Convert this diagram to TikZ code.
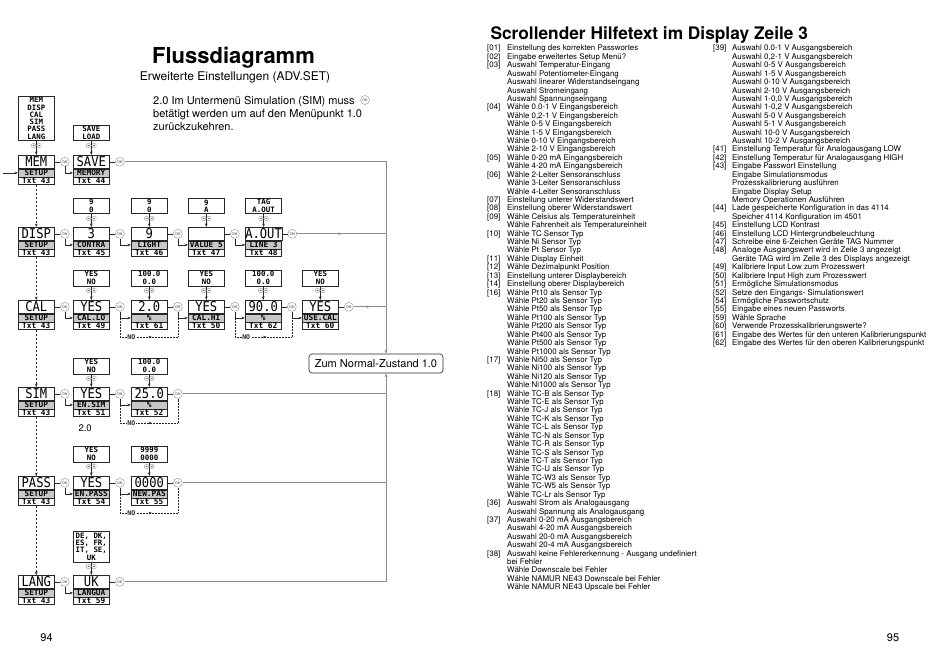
\documentclass[tikz,border=0pt]{standalone}
\usepackage{fontspec}
\setmainfont{TeX Gyre Heros}
\newfontfamily\lcdfont[FakeStretch=0.9]{DejaVu Sans Mono}
\newfontfamily\lcdsmall{DejaVu Sans Mono}
\usepackage{tikz}
\usetikzlibrary{arrows.meta, positioning, decorations.markings}
\definecolor{lcdgray}{RGB}{200,200,200}
\definecolor{linegray}{RGB}{140,140,140}
\definecolor{inkgray}{RGB}{40,40,40}

% one display: value line, scrolling line, help text number
\newcommand{\lcdbox}[6]{%
  \node[lcdmain] (#1) at (#2,#3) {#4};
  \node[lcdband, below=0pt of #1] (#1-b) {#5};
  \node[lcdtxt, below=0pt of #1-b] (#1-t) {#6};}

\tikzset{keys/.pic={
  \draw[linegray, fill=white, line width=0.3pt] (-2.7,0) circle[radius=2.3] (2.7,0) circle[radius=2.3];
  \draw[inkgray, line width=0.35pt] (-3.6,0.5) -- (-2.7,-0.5) -- (-1.8,0.5)
                                    (1.8,-0.5) -- (2.7,0.5) -- (3.6,-0.5);
}}

\begin{document}
\begin{tikzpicture}[
  x=1pt, y=-1pt,
  lcdmain/.style={draw=inkgray, line width=0.6pt, anchor=north west, minimum width=36pt,
                  minimum height=13pt, inner sep=0pt, font=\lcdfont\fontsize{13.5}{13.5}\selectfont},
  lcdband/.style={draw=inkgray, line width=0.6pt, fill=lcdgray, minimum width=36pt,
                  minimum height=8pt, inner sep=0pt, font=\lcdsmall\bfseries\fontsize{7.8}{8}\selectfont},
  lcdtxt/.style={draw=inkgray, line width=0.6pt, minimum width=36pt, minimum height=7pt,
                 inner sep=0pt, font=\lcdsmall\bfseries\fontsize{7.8}{8}\selectfont},
  optbox/.style={draw=inkgray, line width=0.5pt, fill=white, minimum width=36pt, inner xsep=0pt,
                 inner ysep=1.4pt, align=center, font=\lcdsmall\bfseries\fontsize{7.4}{7.3}\selectfont},
  okc/.style={circle, draw=linegray, fill=white, line width=0.4pt, inner sep=0pt,
              minimum size=9pt, text=inkgray, font=\fontsize{3.6}{4}\selectfont},
  conn/.style={inkgray, line width=0.5pt},
  arr/.style={conn, -{Stealth[length=3.5pt, width=2.6pt]}},
  bus/.style={linegray, line width=0.9pt},
  midarr/.style={postaction={decorate}, decoration={markings,
                 mark=at position 0.5 with {\arrow{Stealth[length=3.5pt, width=2.6pt]}}}},
  noline/.style={inkgray, line width=0.5pt, densely dotted},
  nolabel/.style={fill=white, inner sep=0.5pt, font=\lcdsmall\bfseries\fontsize{6.5}{6.5}\selectfont},
  menu/.style={inkgray, line width=1pt, dash pattern=on 2.5pt off 1.5pt,
               -{Stealth[length=3.5pt, width=2.8pt]}},
  normbox/.style={draw=inkgray, line width=0.6pt, rounded corners=3pt, fill=white,
                  minimum width=134pt, minimum height=19pt, font=\fontsize{11}{13}\selectfont},
  helptext/.style={inner sep=0pt, font=\fontsize{7.9}{8.41}\selectfont},
]
\fill[white] (0,0) rectangle (950,671);
\useasboundingbox (0,0) rectangle (950,671);

% Titles and note
\node[anchor=base, font=\bfseries\fontsize{22}{26}\selectfont] (title) at (233.5,64) {Flussdiagramm};
\node[anchor=base, font=\fontsize{12}{14}\selectfont] (subtitle) at (235,81) {Erweiterte Einstellungen (ADV.SET)};
\node[anchor=north west, align=left, inner sep=0pt, font=\fontsize{11}{13}\selectfont] (note) at (153,96)
  {2.0 Im Untermenü Simulation (SIM) muss\\betätigt werden um auf den Menüpunkt 1.0\\zurückzukehren.};
\node[okc] (ok-note) at (365,100) {OK};
\node[anchor=base west, font=\bfseries\fontsize{17.3}{20}\selectfont] (helptitle) at (487,40)
  {Scrollender Hilfetext im Display Zeile 3};

% Displays
\lcdbox{mem}{18}{155}{MEM}{SETUP}{Txt 43}
\lcdbox{save}{73}{155}{SAVE}{MEMORY}{Txt 44}
\lcdbox{disp}{18}{227}{DISP}{SETUP}{Txt 43}
\lcdbox{disp1}{73}{227}{3}{CONTRA}{Txt 45}
\lcdbox{disp2}{131}{227}{9}{LIGHT}{Txt 46}
\lcdbox{disp3}{188}{227}{}{VALUE 5}{Txt 47}
\lcdbox{disp4}{245}{227}{A.OUT}{LINE 3}{Txt 48}
\lcdbox{cal}{18}{300}{CAL}{SETUP}{Txt 43}
\lcdbox{cal1}{73}{300}{YES}{CAL.LO}{Txt 49}
\lcdbox{cal2}{131}{300}{2.0}{\%}{Txt 61}
\lcdbox{cal3}{188}{300}{YES}{CAL.HI}{Txt 50}
\lcdbox{cal4}{245}{300}{90.0}{\%}{Txt 62}
\lcdbox{cal5}{302}{300}{YES}{USE.CAL}{Txt 60}
\lcdbox{sim}{18}{387}{SIM}{SETUP}{Txt 43}
\lcdbox{sim1}{73}{387}{YES}{EN.SIM}{Txt 51}
\lcdbox{sim2}{131}{387}{25.0}{\%}{Txt 52}
\lcdbox{pass}{18}{476}{PASS}{SETUP}{Txt 43}
\lcdbox{pass1}{73}{476}{YES}{EN.PASS}{Txt 54}
\lcdbox{pass2}{131}{476}{0000}{NEW.PAS}{Txt 55}
\lcdbox{lang}{18}{575}{LANG}{SETUP}{Txt 43}
\lcdbox{lang1}{73}{575}{UK}{LANGUA}{Txt 59}

\node[anchor=base west, font=\fontsize{9.5}{11}\selectfont] (simnote) at (75,431) {2.0};

% Choices above the displays
\node[optbox, above=14pt of mem]   (mem-opt)   {MEM\\DISP\\CAL\\SIM\\PASS\\LANG};
\node[optbox, above=14pt of save]  (save-opt)  {SAVE\\LOAD};
\node[optbox, above=13pt of disp1] (disp1-opt) {9\\0};
\node[optbox, above=13pt of disp2] (disp2-opt) {9\\0};
\node[optbox, above=13pt of disp3] (disp3-opt) {9\\A};
\node[optbox, above=13pt of disp4] (disp4-opt) {TAG\\A.OUT};
\node[optbox, above=14pt of cal1]  (cal1-opt)  {YES\\NO};
\node[optbox, above=14pt of cal2]  (cal2-opt)  {100.0\\0.0};
\node[optbox, above=14pt of cal3]  (cal3-opt)  {YES\\NO};
\node[optbox, above=14pt of cal4]  (cal4-opt)  {100.0\\0.0};
\node[optbox, above=14pt of cal5]  (cal5-opt)  {YES\\NO};
\node[optbox, above=13pt of sim1]  (sim1-opt)  {YES\\NO};
\node[optbox, above=13pt of sim2]  (sim2-opt)  {100.0\\0.0};
\node[optbox, above=14pt of pass1] (pass1-opt) {YES\\NO};
\node[optbox, above=14pt of pass2] (pass2-opt) {9999\\0000};
\node[optbox, above=13pt of lang1] (lang1-opt) {DE, DK,\\ES, FR,\\IT, SE,\\UK};

\foreach \d in {mem, save, disp1, disp2, disp3, disp4, cal1, cal2, cal3, cal4, cal5,
                sim1, sim2, pass1, pass2, lang1} {
  \draw[arr] (\d-opt) -- (\d);
  \path (\d-opt.south) ++(0,4.5) pic {keys};
}

% OK keys
\node[okc, right=5.5pt of mem]   (ok-mem)   {OK};
\node[okc, right=5.5pt of save]  (ok-save)  {OK};
\node[okc, right=5.5pt of disp]  (ok-disp)  {OK};
\node[okc, right=5.5pt of disp1] (ok-disp1) {OK};
\node[okc, right=5.5pt of disp2] (ok-disp2) {OK};
\node[okc, right=5.5pt of disp3] (ok-disp3) {OK};
\node[okc, right=5.5pt of disp4] (ok-disp4) {OK};
\node[okc, right=5.5pt of cal]   (ok-cal)   {OK};
\node[okc, right=5.5pt of cal1]  (ok-cal1)  {OK};
\node[okc, right=5.5pt of cal2]  (ok-cal2)  {OK};
\node[okc, right=5.5pt of cal3]  (ok-cal3)  {OK};
\node[okc, right=5.5pt of cal4]  (ok-cal4)  {OK};
\node[okc, right=5.5pt of cal5]  (ok-cal5)  {OK};
\node[okc, right=5.5pt of sim]   (ok-sim)   {OK};
\node[okc, right=5.5pt of sim1]  (ok-sim1)  {OK};
\node[okc, right=5.5pt of sim2]  (ok-sim2)  {OK};
\node[okc, right=5.5pt of pass]  (ok-pass)  {OK};
\node[okc, right=5.5pt of pass1] (ok-pass1) {OK};
\node[okc, right=5.5pt of pass2] (ok-pass2) {OK};
\node[okc, right=5.5pt of lang]  (ok-lang)  {OK};
\node[okc, right=5.5pt of lang1] (ok-lang1) {OK};

% Display -> OK -> next display
\foreach \a/\b in {mem/save, disp/disp1, disp1/disp2, disp2/disp3, disp3/disp4,
                   cal/cal1, cal1/cal2, cal2/cal3, cal3/cal4, cal4/cal5,
                   sim/sim1, sim1/sim2, pass/pass1, pass1/pass2, lang/lang1} {
  \draw[conn] (\a) -- (ok-\a);
  \draw[arr] (ok-\a.south) |- (\b-b.west);
}
\foreach \a in {save, disp4, cal5, sim2, pass2, lang1}
  \draw[conn] (\a) -- (ok-\a);

% Menu column
\coordinate (entry) at (3,170);
\draw[arr] (entry |- mem-b.west) -- (mem-b.west);
\draw[menu] (mem-t) -- (disp);
\draw[menu] (disp-t) -- (cal);
\draw[menu] (cal-t) -- (sim);
\draw[menu] (sim-t) -- (pass);
\draw[menu] (pass-t) -- (lang);

% NO branches
\coordinate (no-cal) at (0,337);
\coordinate (no-sim) at (0,423);
\coordinate (no-pass) at (0,513);
\draw[noline, midarr] (ok-cal1.south |- cal1-b.west) -- (ok-cal1.south |- no-cal)
  -- node[nolabel, pos=0.2] {NO} (ok-cal2.south |- no-cal) -- (ok-cal2.south);
\draw[noline, midarr] (ok-cal3.south |- cal3-b.west) -- (ok-cal3.south |- no-cal)
  -- node[nolabel, pos=0.2] {NO} (ok-cal4.south |- no-cal) -- (ok-cal4.south);
\draw[noline, midarr] (ok-sim1.south |- sim1-b.west) -- (ok-sim1.south |- no-sim)
  -- node[nolabel, pos=0.2] {NO} (ok-sim2.south |- no-sim) -- (ok-sim2.south);
\draw[noline, midarr] (ok-pass1.south |- pass1-b.west) -- (ok-pass1.south |- no-pass)
  -- node[nolabel, pos=0.2] {NO} (ok-pass2.south |- no-pass) -- (ok-pass2.south);

% Back to normal state
\node[normbox] (normal) at (376,363.5) {Zum Normal-Zustand 1.0};
\coordinate (busx) at (386,0);
\draw[bus, -{Stealth[length=4pt, width=3pt]}] (ok-save.east) -| (normal.north -| busx);
\draw[bus, -{Stealth[length=4pt, width=3pt]}] (ok-lang1.east) -| (normal.south -| busx);
\draw[bus, midarr] (ok-disp4.east) -- (ok-disp4.east -| busx);
\draw[bus, midarr] (ok-cal5.east) -- (ok-cal5.east -| busx);
\draw[bus] (ok-sim2.east) -- (ok-sim2.east -| busx);
\draw[bus] (ok-pass2.east) -- (ok-pass2.east -| busx);

% Help texts
\node[helptext, anchor=base west] (help-a) at (487,51) {%
\begin{tabular}[t]{@{}p{20pt}@{}l@{}}
{[01]} & Einstellung des korrekten Passwortes\\
{[02]} & Eingabe erweitertes Setup Menü?\\
{[03]} & Auswahl Temperatur-Eingang\\
 & Auswahl Potentiometer-Eingang\\
 & Auswahl linearer Widerstandseingang\\
 & Auswahl Stromeingang\\
 & Auswahl Spannungseingang\\
{[04]} & Wähle 0.0-1 V Eingangsbereich\\
 & Wähle 0,2-1 V Eingangsbereich\\
 & Wähle 0-5 V Eingangsbereich\\
 & Wähle 1-5 V Eingangsbereich\\
 & Wähle 0-10 V Eingangsbereich\\
 & Wähle 2-10 V Eingangsbereich\\
{[05]} & Wähle 0-20 mA Eingangsbereich\\
 & Wähle 4-20 mA Eingangsbereich\\
{[06]} & Wähle 2-Leiter Sensoranschluss\\
 & Wähle 3-Leiter Sensoranschluss\\
 & Wähle 4-Leiter Sensoranschluss\\
{[07]} & Einstellung unterer Widerstandswert\\
{[08]} & Einstellung oberer Widerstandswert\\
{[09]} & Wähle Celsius als Temperatureinheit\\
 & Wähle Fahrenheit als Temperatureinheit\\
{[10]} & Wähle TC Sensor Typ\\
 & Wähle Ni Sensor Typ\\
 & Wähle Pt Sensor Typ\\
{[11]} & Wähle Display Einheit\\
{[12]} & Wähle Dezimalpunkt Position\\
{[13]} & Einstellung unterer Displaybereich\\
{[14]} & Einstellung oberer Displaybereich\\
{[16]} & Wähle Pt10 als Sensor Typ\\
 & Wähle Pt20 als Sensor Typ\\
 & Wähle Pt50 als Sensor Typ\\
 & Wähle Pt100 als Sensor Typ\\
 & Wähle Pt200 als Sensor Typ\\
 & Wähle Pt400 als Sensor Typ\\
 & Wähle Pt500 als Sensor Typ\\
 & Wähle Pt1000 als Sensor Typ\\
{[17]} & Wähle Ni50 als Sensor Typ\\
 & Wähle Ni100 als Sensor Typ\\
 & Wähle Ni120 als Sensor Typ\\
 & Wähle Ni1000 als Sensor Typ\\
{[18]} & Wähle TC-B als Sensor Typ\\
 & Wähle TC-E als Sensor Typ\\
 & Wähle TC-J als Sensor Typ\\
 & Wähle TC-K als Sensor Typ\\
 & Wähle TC-L als Sensor Typ\\
 & Wähle TC-N als Sensor Typ\\
 & Wähle TC-R als Sensor Typ\\
 & Wähle TC-S als Sensor Typ\\
 & Wähle TC-T als Sensor Typ\\
 & Wähle TC-U als Sensor Typ\\
 & Wähle TC-W3 als Sensor Typ\\
 & Wähle TC-W5 als Sensor Typ\\
 & Wähle TC-Lr als Sensor Typ\\
{[36]} & Auswahl Strom als Analogausgang\\
 & Auswahl Spannung als Analogausgang\\
{[37]} & Auswahl 0-20 mA Ausgangsbereich\\
 & Auswahl 4-20 mA Ausgangsbereich\\
 & Auswahl 20-0 mA Ausgangsbereich\\
 & Auswahl 20-4 mA Ausgangsbereich\\
{[38]} & Auswahl keine Fehlererkennung - Ausgang undefiniert\\
 & bei Fehler\\
 & Wähle Downscale bei Fehler\\
 & Wähle NAMUR NE43 Downscale bei Fehler\\
 & Wähle NAMUR NE43 Upscale bei Fehler
\end{tabular}};

\node[helptext, anchor=base west] (help-b) at (713,51) {%
\begin{tabular}[t]{@{}p{19pt}@{}l@{}}
{[39]} & Auswahl 0.0-1 V Ausgangsbereich\\
 & Auswahl 0,2-1 V Ausgangsbereich\\
 & Auswahl 0-5 V Ausgangsbereich\\
 & Auswahl 1-5 V Ausgangsbereich\\
 & Auswahl 0-10 V Ausgangsbereich\\
 & Auswahl 2-10 V Ausgangsbereich\\
 & Auswahl 1-0,0 V Ausgangsbereich\\
 & Auswahl 1-0,2 V Ausgangsbereich\\
 & Auswahl 5-0 V Ausgangsbereich\\
 & Auswahl 5-1 V Ausgangsbereich\\
 & Auswahl 10-0 V Ausgangsbereich\\
 & Auswahl 10-2 V Ausgangsbereich\\
{[41]} & Einstellung Temperatur für Analogausgang LOW\\
{[42]} & Einstellung Temperatur für Analogausgang HIGH\\
{[43]} & Eingabe Passwort Einstellung\\
 & Eingabe Simulationsmodus\\
 & Prozesskalibrierung ausführen\\
 & Eingabe Display Setup\\
 & Memory Operationen Ausführen\\
{[44]} & Lade gespeicherte Konfiguration in das 4114\\
 & Speicher 4114 Konfiguration im 4501\\
{[45]} & Einstellung LCD Kontrast\\
{[46]} & Einstellung LCD Hintergrundbeleuchtung\\
{[47]} & Schreibe eine 6-Zeichen Geräte TAG Nummer\\
{[48]} & Analoge Ausgangswert wird in Zeile 3 angezeigt\\
 & Geräte TAG wird im Zeile 3 des Displays angezeigt\\
{[49]} & Kalibriere Input Low zum Prozesswert\\
{[50]} & Kalibriere Input High zum Prozesswert\\
{[51]} & Ermögliche Simulationsmodus\\
{[52]} & Setze den Eingangs- Simulationswert\\
{[54]} & Ermögliche Passwortschutz\\
{[55]} & Eingabe eines neuen Passworts\\
{[59]} & Wähle Sprache\\
{[60]} & Verwende Prozesskalibrierungswerte?\\
{[61]} & Eingabe des Wertes für den unteren Kalibrierungspunkt\\
{[62]} & Eingabe des Wertes für den oberen Kalibrierungspunkt
\end{tabular}};

% Page numbers
\node[anchor=base, font=\fontsize{11}{13}\selectfont] (page-l) at (46.5,641) {94};
\node[anchor=base, font=\fontsize{11}{13}\selectfont] (page-r) at (893,641) {95};

\end{tikzpicture}
\end{document}
